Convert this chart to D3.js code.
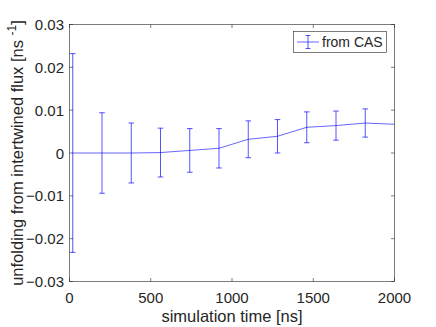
<!DOCTYPE html>
<html>
<head>
<meta charset="utf-8">
<script src="https://cdn.jsdelivr.net/npm/d3@7"></script>
<style>
  body { margin: 0; background: #fff; }
  text { font-family: "Liberation Sans", Arial, sans-serif; fill: #262626; }
</style>
</head>
<body>
<svg id="svg"></svg>
<script>
// data
const times = [20, 200, 380, 560, 740, 920, 1100, 1280, 1460, 1640, 1820, 2000]
const rates = [0, 0, 0, 0.0001, 0.0006, 0.0011, 0.0032, 0.0039, 0.006, 0.0064, 0.007, 0.0067]
const errs = [0.0232, 0.0094, 0.007, 0.0057, 0.0051, 0.0046, 0.0043, 0.0039, 0.0036, 0.0034, 0.0033, null]
const xTicks = [0, 500, 1000, 1500, 2000]
const yTicks = [-0.03, -0.02, -0.01, 0, 0.01, 0.02, 0.03]

const W = 436, H = 327
const m = { left: 69.5, right: 41.5, top: 24.5, bottom: 45.5 }
const blue = "#0000ff"
const axisColor = "#262626"

const svg = d3.select("#svg").attr("width", W).attr("height", H)

const x = d3.scaleLinear().domain([0, 2000]).range([m.left, W - m.right])
const y = d3.scaleLinear().domain([-0.03, 0.03]).range([H - m.bottom, m.top])

const fmtY = d => d === 0 ? "0" : d3.format(".2f")(d)

// axes box
svg.append("rect")
    .attr("x", m.left).attr("y", m.top)
    .attr("width", W - m.left - m.right).attr("height", H - m.top - m.bottom)
    .attr("fill", "none").attr("stroke", axisColor).attr("stroke-width", 0.6)

const tickLen = 3.5
xTicks.forEach(t => {
    svg.append("line")
        .attr("x1", x(t)).attr("x2", x(t))
        .attr("y1", y.range()[0]).attr("y2", y.range()[0] - tickLen)
        .attr("stroke", axisColor).attr("stroke-width", 0.6)
    svg.append("line")
        .attr("x1", x(t)).attr("x2", x(t))
        .attr("y1", m.top).attr("y2", m.top + tickLen)
        .attr("stroke", axisColor).attr("stroke-width", 0.6)
    svg.append("text")
        .attr("x", x(t)).attr("y", H - m.bottom + 21)
        .attr("text-anchor", "middle").attr("font-size", 15)
        .text(t)
})
yTicks.forEach(t => {
    svg.append("line")
        .attr("x1", m.left).attr("x2", m.left + tickLen)
        .attr("y1", y(t)).attr("y2", y(t))
        .attr("stroke", axisColor).attr("stroke-width", 0.6)
    svg.append("line")
        .attr("x1", W - m.right).attr("x2", W - m.right - tickLen)
        .attr("y1", y(t)).attr("y2", y(t))
        .attr("stroke", axisColor).attr("stroke-width", 0.6)
    svg.append("text")
        .attr("x", m.left - 5.5).attr("y", y(t) + 5.5)
        .attr("text-anchor", "end").attr("font-size", 15)
        .text(fmtY(t))
})

// axis labels
svg.append("text")
    .attr("x", (m.left + W - m.right) / 2).attr("y", H - 5.5)
    .attr("text-anchor", "middle").attr("font-size", 16.5)
    .text("simulation time [ns]")

const yl = svg.append("text")
    .attr("transform", `translate(23,${(m.top + H - m.bottom) / 2}) rotate(-90)`)
    .attr("text-anchor", "middle").attr("font-size", 16.5)
yl.append("tspan").text("unfolding from intertwined flux [ns ")
yl.append("tspan").attr("dy", -7).attr("font-size", 12).text("-1")
yl.append("tspan").attr("dy", 7).text("]")

// data
const pts = times.map((t, i) => ({ t, v: rates[i], e: errs[i] }))

svg.append("clipPath").attr("id", "clip").append("rect")
    .attr("x", m.left).attr("y", m.top)
    .attr("width", W - m.left - m.right).attr("height", H - m.top - m.bottom)

const plot = svg.append("g").attr("clip-path", "url(#clip)")

plot.append("path")
    .datum(pts)
    .attr("fill", "none").attr("stroke", blue).attr("stroke-opacity", 0.6)
    .attr("stroke-width", 1)
    .attr("d", d3.line().x(d => x(d.t)).y(d => y(d.v)))

const cap = 2.8
pts.filter(d => d.e !== null).forEach(d => {
    const g = plot.append("g").attr("stroke", blue).attr("stroke-width", 0.9).attr("stroke-opacity", 0.75)
    g.append("line")
        .attr("x1", x(d.t)).attr("x2", x(d.t))
        .attr("y1", y(d.v - d.e)).attr("y2", y(d.v + d.e))
    g.append("line")
        .attr("x1", x(d.t) - cap).attr("x2", x(d.t) + cap)
        .attr("y1", y(d.v + d.e)).attr("y2", y(d.v + d.e))
    g.append("line")
        .attr("x1", x(d.t) - cap).attr("x2", x(d.t) + cap)
        .attr("y1", y(d.v - d.e)).attr("y2", y(d.v - d.e))
})

// legend
const lg = svg.append("g").attr("transform", "translate(293.5,31.5)")
lg.append("rect").attr("width", 93).attr("height", 21)
    .attr("fill", "#fff").attr("stroke", axisColor).attr("stroke-width", 0.6)
lg.append("line").attr("x1", 3.5).attr("x2", 25.5).attr("y1", 10.5).attr("y2", 10.5)
    .attr("stroke", blue).attr("stroke-opacity", 0.6)
const lgb = lg.append("g").attr("stroke", blue).attr("stroke-width", 0.9).attr("stroke-opacity", 0.75)
lgb.append("line").attr("x1", 14.5).attr("x2", 14.5).attr("y1", 4).attr("y2", 17)
lgb.append("line").attr("x1", 12).attr("x2", 17).attr("y1", 4).attr("y2", 4)
lgb.append("line").attr("x1", 12).attr("x2", 17).attr("y1", 17).attr("y2", 17)
lg.append("text").attr("x", 28.5).attr("y", 15.5).attr("font-size", 14).text("from CAS")
</script>
</body>
</html>
